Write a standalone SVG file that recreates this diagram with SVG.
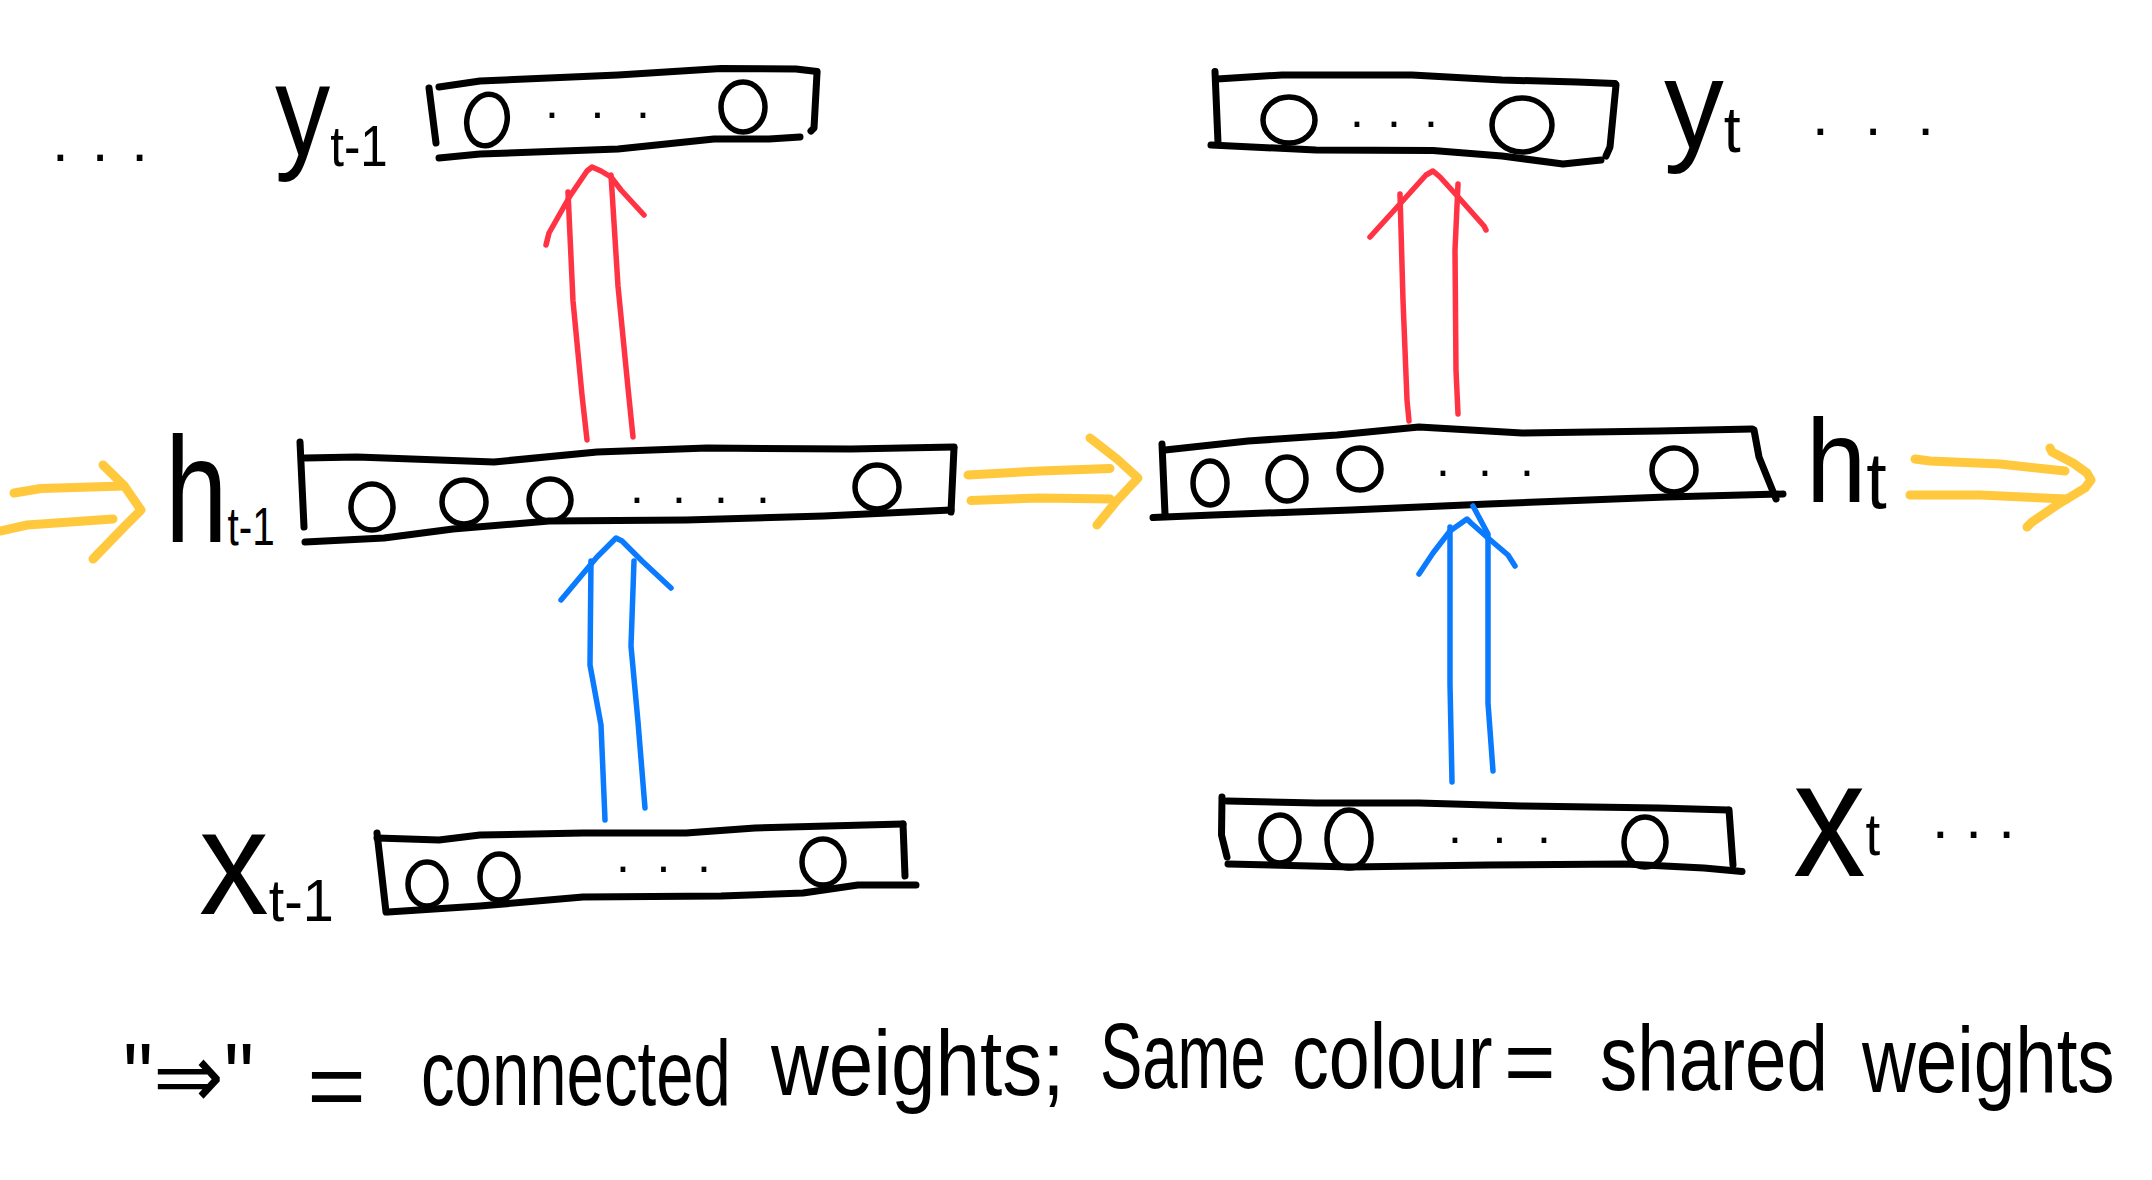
<svg xmlns="http://www.w3.org/2000/svg" width="2152" height="1180" viewBox="0 0 2152 1180">
<style>
.box{fill:none;stroke:#000;stroke-width:7;stroke-linecap:round;stroke-linejoin:round}
.cell{fill:none;stroke:#000;stroke-width:5.5}
.t{font-family:"Liberation Sans","DejaVu Sans",sans-serif;fill:#000}
.cap{font-family:"Liberation Sans","DejaVu Sans",sans-serif;fill:#000;font-size:92px}
.red{fill:none;stroke:#FF3344;stroke-width:5.5;stroke-linecap:round;stroke-linejoin:round}
.blue{fill:none;stroke:#0A7AFF;stroke-width:5.5;stroke-linecap:round;stroke-linejoin:round}
.yel{fill:none;stroke:#FFC83D;stroke-width:9;stroke-linecap:round;stroke-linejoin:round}
</style>
<rect width="2152" height="1180" fill="#fff"/>

<g id="ellipsis-left">
<text class="t" x="52" y="161" font-size="60" textLength="96" lengthAdjust="spacing">...</text>
</g>

<g id="y_prev">
<path class="box" d="M429,88 L436,143"/>
<path class="box" d="M439,87 L480,81 L618,75 L721,68.5 L796,69 L817,71.5"/>
<path class="box" d="M817,73 L814,128 L811,131"/>
<path class="box" d="M439,158 L480,154 L618,149 L714,139 L769,139 L800,137"/>
<ellipse class="cell" cx="487" cy="120" rx="20" ry="26" transform="rotate(12 487 120)"/>
<text class="t" x="545" y="118" font-size="50" textLength="105" lengthAdjust="spacing">...</text>
<ellipse class="cell" cx="743" cy="107" rx="22" ry="25"/>
<text class="t" transform="translate(275,0) scale(0.85,1)" x="0" y="155" font-size="130">y<tspan font-size="58" dy="11">t-1</tspan></text>
</g>

<g id="h_prev">
<path class="box" d="M300,442 L304,527"/>
<path class="box" d="M305,458 L357,457 L494,462 L597,452 L707,448 L851,449 L954,447"/>
<path class="box" d="M954,448 L951,512"/>
<path class="box" d="M305,542 L384,538 L453,529 L549,521 L686,520 L824,516 L951,510"/>
<ellipse class="cell" cx="372" cy="507" rx="21" ry="23"/>
<ellipse class="cell" cx="464" cy="502" rx="22" ry="22"/>
<ellipse class="cell" cx="550" cy="500" rx="21" ry="21"/>
<text class="t" x="630" y="503" font-size="50" textLength="140" lengthAdjust="spacing">....</text>
<ellipse class="cell" cx="877" cy="487" rx="22" ry="22"/>
<text class="t" transform="translate(165,0) scale(0.75,1)" x="0" y="542" font-size="150">h<tspan font-size="54" dy="3">t-1</tspan></text>
</g>

<g id="x_prev">
<path class="box" d="M377,833 L386,912"/>
<path class="box" d="M377,838 L439,840 L480,835 L583,833 L686,833 L755,828 L903,824"/>
<path class="box" d="M903,824 L905,876"/>
<path class="box" d="M388,912 L480,906 L583,897 L721,896 L803,893 L858,885 L916,885"/>
<ellipse class="cell" cx="427" cy="884" rx="19" ry="22"/>
<ellipse class="cell" cx="499" cy="877" rx="19" ry="23"/>
<text class="t" x="616" y="872" font-size="50" textLength="95" lengthAdjust="spacing">...</text>
<ellipse class="cell" cx="823" cy="862" rx="21" ry="23"/>
<text class="t" transform="translate(199,0) scale(0.93,1)" x="0" y="914" font-size="150">x<tspan font-size="60" dy="7">t-1</tspan></text>
</g>

<g id="y_t">
<path class="box" d="M1215,71.5 L1218,143"/>
<path class="box" d="M1217,79 L1282,75 L1412,75 L1502,80 L1577,82 L1615,83.5"/>
<path class="box" d="M1616,85 L1610,147 L1606,156"/>
<path class="box" d="M1211,145 L1316,150 L1433,150.5 L1502,156 L1563,164 L1601,160"/>
<ellipse class="cell" cx="1289" cy="120" rx="26" ry="23"/>
<text class="t" x="1350" y="127" font-size="50" textLength="88" lengthAdjust="spacing">...</text>
<ellipse class="cell" cx="1522" cy="125" rx="30" ry="27"/>
<text class="t" transform="translate(1664,0) scale(0.95,1)" x="0" y="148" font-size="126">y<tspan font-size="64" dy="4">t</tspan></text>
<text class="t" x="1812" y="135" font-size="60" textLength="122" lengthAdjust="spacing">...</text>
</g>

<g id="h_t">
<path class="box" d="M1162,444 L1165,514"/>
<path class="box" d="M1165,450 L1248,441 L1337,435 L1419,427 L1522,433 L1659,431 L1752,429"/>
<path class="box" d="M1754,430 L1759,457 L1776,499"/>
<path class="box" d="M1153,517.5 L1213,515 L1351,510 L1488,504 L1666,497 L1783,494"/>
<ellipse class="cell" cx="1210" cy="483" rx="17" ry="22"/>
<ellipse class="cell" cx="1287" cy="479" rx="19" ry="22"/>
<ellipse class="cell" cx="1360" cy="469" rx="21" ry="21"/>
<text class="t" x="1436" y="476" font-size="50" textLength="98" lengthAdjust="spacing">...</text>
<ellipse class="cell" cx="1674" cy="470" rx="22" ry="22"/>
<text class="t" transform="translate(1806,0) scale(0.92,1)" x="0" y="502" font-size="118">h<tspan font-size="80" dy="6">t</tspan></text>
</g>

<g id="x_t">
<path class="box" d="M1222,797 L1221.5,835 L1227,857"/>
<path class="box" d="M1227,801 L1316,803 L1419,803 L1522,806 L1659,808 L1728,810"/>
<path class="box" d="M1729,810 L1733,865"/>
<path class="box" d="M1228,864 L1351,867 L1488,865 L1625,864 L1704,868 L1742,871.5"/>
<ellipse class="cell" cx="1280" cy="839" rx="19" ry="24"/>
<ellipse class="cell" cx="1349" cy="839" rx="22" ry="29"/>
<text class="t" x="1448" y="843" font-size="50" textLength="103" lengthAdjust="spacing">...</text>
<ellipse class="cell" cx="1645" cy="842" rx="21" ry="25"/>
<text class="t" transform="translate(1793,0) scale(0.88,1)" x="0" y="876" font-size="165">x<tspan font-size="60" dy="-21">t</tspan></text>
<text class="t" x="1932" y="838" font-size="60" textLength="83" lengthAdjust="spacing">...</text>
</g>

<g id="connectors">
<path class="yel" d="M14,493 L41,488.5 L124,486"/>
<path class="yel" d="M0,531 L27,525 L113,519"/>
<path class="yel" d="M103,465 L124,485.5 L141,510 L124,527 L93,559"/>
<path class="yel" d="M968,475 L1040,471 L1110,468.5"/>
<path class="yel" d="M971,500.5 L1040,498 L1110,499"/>
<path class="yel" d="M1090,438 L1117,459 L1138,478 L1117,500.5 L1097,525"/>
<path class="yel" d="M1915,459 L1930,461 L2000,464 L2065,471"/>
<path class="yel" d="M1910,495 L1980,495 L2067,499"/>
<path class="yel" d="M2050,448 L2052,452 L2073,463 L2087,473 L2091,480 L2085,488 L2057,505 L2032,522 L2027,527"/>
<path class="red" d="M587,440 L582,395 L573,301 L568,192"/>
<path class="red" d="M633,437 L628,388 L618,286 L611,175"/>
<path class="red" d="M546,245 L549,233 L570,196 L587,171 L592,167 L601,171 L611,177 L621,190 L644,215"/>
<path class="red" d="M1409,421 L1407,400 L1403,300 L1400,194"/>
<path class="red" d="M1458,414 L1456,370 L1455,250 L1458,184"/>
<path class="red" d="M1370,237 L1399,205 L1426,175 L1433,171 L1440,177 L1460,199 L1484,226 L1486,230"/>
<path class="blue" d="M605,820 L601,725 L590,665 L591,561"/>
<path class="blue" d="M645,808 L638,722 L631,646 L634,561"/>
<path class="blue" d="M561,600 L597,557 L616,538 L622,541 L642,561 L671,588"/>
<path class="blue" d="M1452,782 L1450,684 L1450,590 L1450,527"/>
<path class="blue" d="M1493,771 L1488,703 L1488,590 L1488,534 L1473,506"/>
<path class="blue" d="M1419,574 L1433,553 L1450,531 L1467,519 L1471,523 L1488,538 L1508,555 L1515,566"/>
</g>

<g id="caption">
<text class="cap" transform="translate(123,1108) scale(0.92,1)" font-size="100">"⇒"</text>
<text class="cap" transform="translate(307,1118) scale(1.1,1)" font-size="115">=</text>
<text class="cap" transform="translate(421,1105) scale(0.73,1)">connected</text>
<text class="cap" transform="translate(771,1095) scale(0.87,1)">weights;</text>
<text class="cap" transform="translate(1100,1088) scale(0.69,1)">Same</text>
<text class="cap" transform="translate(1292,1088) scale(0.8,1)">colour</text>
<text class="cap" transform="translate(1504,1094) scale(0.96,1)">=</text>
<text class="cap" transform="translate(1600,1090) scale(0.81,1)">shared</text>
<text class="cap" transform="translate(1862,1092) scale(0.81,1)">weights</text>
</g>
</svg>
